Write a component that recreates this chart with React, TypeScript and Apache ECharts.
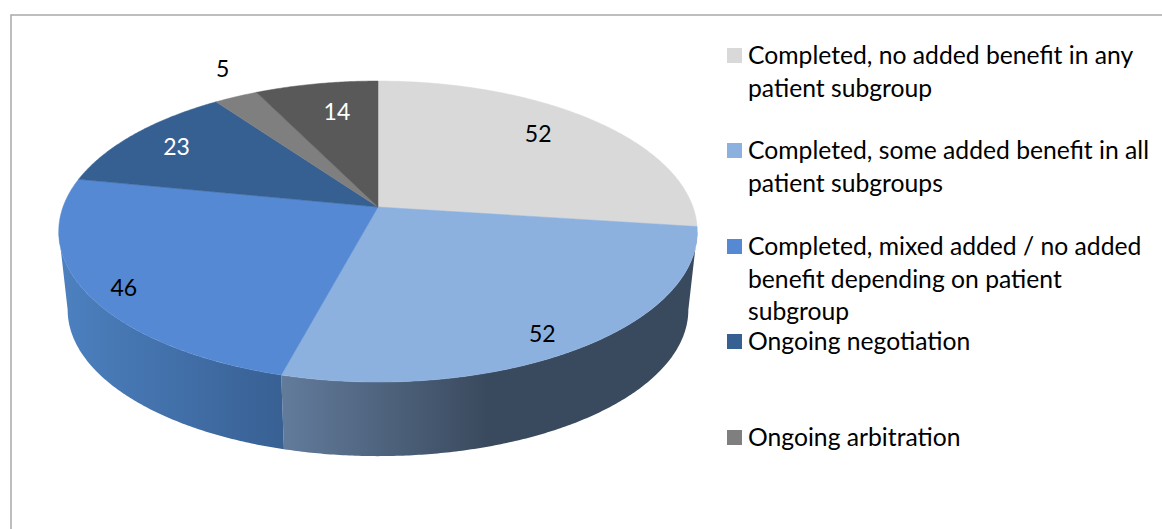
import React, { useEffect, useRef } from "react";
import * as echarts from "echarts";

const sliceValues = [52, 52, 46, 23, 5, 14];
const sliceColors = ["#d9d9d9", "#8cb1df", "#5589d3", "#376092", "#7f7f7f", "#595959"];
const labelColors = ["#000000", "#000000", "#000000", "#ffffff", "#000000", "#ffffff"];
const legendLabels = [
  "Completed, no added benefit in any\npatient subgroup",
  "Completed, some added benefit in all\npatient subgroups",
  "Completed, mixed added / no added\nbenefit depending on patient\nsubgroup",
  "Ongoing negotiation",
  "Ongoing arbitration",
];
const legendTops = [48, 143, 239, 334, 430];
const labelNudges = [[6, -11], [29, 32], [-55, 22], [-27, -9], [-52, -59], [4, -6]];
const wallGradients: Record<number, [number, number, string, string, number]> = {
  1: [284, 690, "#627b9b", "#3a4a5e", 0.5],
  2: [62, 284, "#4c80bf", "#386093", 1],
};

const FONT = "Lato";
const LABEL_SIZE = 23;
const LEGEND_SIZE = 24.7;
const total = sliceValues.reduce((a, b) => a + b, 0);
const CX = 378, CY = 207, RX = 315, RY = 146.5, K = 0.163;
const WALL_DY = 79, WALL_SCALE = 0.972;
const WALL_MIN = 99.4, WALL_MAX = 260.6;

function project(rad: number, deg: number, scale = 1, dy = 0): number[] {
  const t = (deg * Math.PI) / 180;
  const X = rad * Math.sin(t), Y = rad * Math.cos(t);
  const den = 1 + K * Y;
  return [CX + (scale * RX * X) / den, CY + dy - (scale * RY * Y) / den];
}
function startDeg(i: number) {
  return (sliceValues.slice(0, i).reduce((a, b) => a + b, 0) / total) * 360;
}
function arcPoints(a: number, b: number, scale = 1, dy = 0) {
  const pts: number[][] = [];
  const n = Math.max(2, Math.ceil(Math.abs(b - a) * 2));
  for (let i = 0; i <= n; i++) pts.push(project(1, a + ((b - a) * i) / n, scale, dy));
  return pts;
}

function renderWall(params: any, api: any) {
  const i = params.dataIndex;
  const a = Math.max(startDeg(i), WALL_MIN);
  const b = Math.min(startDeg(i) + (api.value(0) / total) * 360, WALL_MAX);
  if (b <= a || !wallGradients[i]) return { type: "group", children: [] };
  const [x0, x1, c0, c1, stop] = wallGradients[i];
  const points = [...arcPoints(a, b), ...arcPoints(b, a, WALL_SCALE, WALL_DY)];
  const fill: any = {
    type: "linear", x: x0, y: 0, x2: x1, y2: 0, global: true,
    colorStops: [{ offset: 0, color: c0 }, { offset: stop, color: c1 }, { offset: 1, color: c1 }],
  };
  return { type: "polygon", shape: { points }, style: { fill, stroke: null } };
}

function renderTop(params: any, api: any) {
  const i = params.dataIndex;
  const a = startDeg(i);
  const b = a + (api.value(0) / total) * 360;
  const points = [[CX, CY], ...arcPoints(a, b)];
  const color = sliceColors[i];
  return { type: "polygon", shape: { points }, style: { fill: color, stroke: color, lineWidth: 0.5 } };
}

function renderLabel(params: any, api: any) {
  const i = params.dataIndex;
  const v = api.value(0);
  const a = startDeg(i);
  const b = a + (v / total) * 360;
  const anchor = project(0.7, (a + b) / 2);
  const n = labelNudges[i];
  return {
    type: "text",
    x: anchor[0] + n[0],
    y: anchor[1] + n[1],
    style: {
      text: String(v), fill: labelColors[i], font: `${LABEL_SIZE}px ${FONT}`,
      textAlign: "center", textVerticalAlign: "middle",
    },
  };
}

export default function App() {
  const ref = useRef<HTMLDivElement>(null);
  useEffect(() => {
    const chart = echarts.init(ref.current!, undefined, { renderer: "svg" });
    const data = sliceValues.map((v) => [v]);
    const legend: any[] = [];
    legendLabels.forEach((text, i) => {
      legend.push({
        type: "rect",
        shape: { x: 727, y: legendTops[i], width: 15, height: 15 },
        style: { fill: sliceColors[i] },
      });
      legend.push({
        type: "text", x: 748, y: legendTops[i] - 9.5,
        style: { text, fill: "#000000", font: `${LEGEND_SIZE}px ${FONT}`, lineHeight: 32.5, textVerticalAlign: "top" },
      });
    });
    chart.setOption({
      animation: false,
      backgroundColor: "#ffffff",
      graphic: [
        {
          type: "rect",
          shape: { x: 11, y: 15, width: 1300, height: 700 },
          style: { fill: "none", stroke: "#a9a9a9", lineWidth: 1.5 },
          z: -1,
        },
        ...legend,
      ],
      series: [
        { type: "custom", coordinateSystem: "none", renderItem: renderWall, data, z: 1, silent: true },
        { type: "custom", coordinateSystem: "none", renderItem: renderTop, data, z: 2, silent: true },
        { type: "custom", coordinateSystem: "none", renderItem: renderLabel, data, z: 3, silent: true },
      ],
    });
    return () => chart.dispose();
  }, []);
  return <div ref={ref} style={{ position: "fixed", left: 0, top: 0, width: 1162, height: 529 }} />;
}
